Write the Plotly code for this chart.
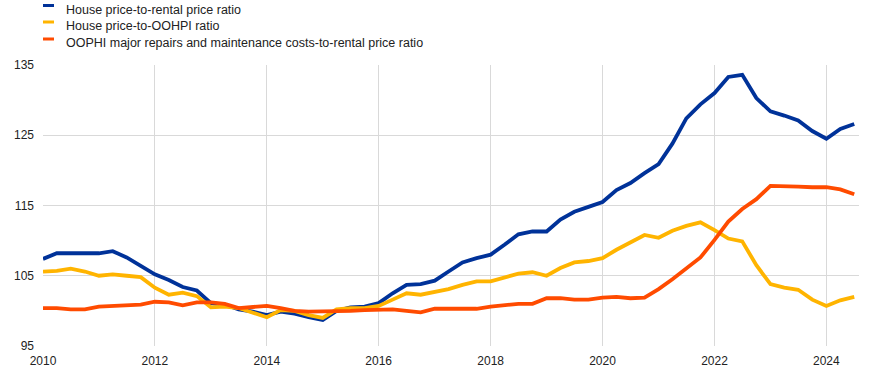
import pandas as pd
import plotly.graph_objects as go

# Quarterly observations, 2010 Q1 - 2024 Q3
quarters = pd.date_range("2010-01-01", periods=59, freq="QS")

house_to_rental = [
    107.4, 108.2, 108.2, 108.2, 108.2, 108.5, 107.6, 106.4,
    105.2, 104.4, 103.4, 102.9, 101.1, 100.9, 100.2, 99.9,
    99.4, 99.9, 99.6, 99.1, 98.7, 100.0, 100.5, 100.6,
    101.1, 102.5, 103.7, 103.8, 104.3, 105.6, 106.9, 107.5,
    108.0, 109.4, 110.9, 111.3, 111.3, 113.0, 114.1, 114.8,
    115.5, 117.2, 118.2, 119.6, 120.9, 123.8, 127.4, 129.4,
    131.0, 133.3, 133.6, 130.3, 128.4, 127.8, 127.1, 125.6,
    124.5, 125.9, 126.6,
]

house_to_oohpi = [
    105.6, 105.7, 106.0, 105.6, 105.0, 105.2, 105.0, 104.8,
    103.3, 102.3, 102.6, 102.1, 100.5, 100.6, 100.4, 99.7,
    99.1, 100.1, 100.0, 99.4, 99.0, 100.2, 100.4, 100.4,
    100.7, 101.6, 102.5, 102.3, 102.7, 103.1, 103.7, 104.2,
    104.2, 104.7, 105.3, 105.5, 105.0, 106.1, 106.9, 107.1,
    107.5, 108.7, 109.7, 110.8, 110.4, 111.4, 112.1, 112.6,
    111.5, 110.3, 109.9, 106.5, 103.8, 103.3, 103.0, 101.6,
    100.7, 101.5, 102.0,
]

repairs_to_rental = [
    100.4, 100.4, 100.2, 100.2, 100.6, 100.7, 100.7, 100.9,
    101.3, 101.2, 100.8, 101.2, 101.2, 101.0, 100.4, 100.6,
    100.7, 100.4, 100.0, 99.9, 99.9, 99.9, 100.0, 100.1,
    100.2, 100.2, 100.0, 99.8, 100.3, 100.3, 100.3, 100.3,
    100.6, 100.8, 101.0, 101.0, 101.8, 101.8, 101.6, 101.6,
    101.9, 102.0, 101.8, 101.9, 103.1, 104.5, 106.1, 107.6,
    110.1, 112.7, 114.5, 115.9, 117.8, 117.8, 117.7, 117.6,
    117.6, 117.3, 116.6,
]

series_names = [
    "House price-to-rental price ratio",
    "House price-to-OOHPI ratio",
    "OOPHI major repairs and maintenance costs-to-rental price ratio",
]
series_colors = ["#003299", "#FFB400", "#FF4B00"]
y_ticks = [95, 105, 115, 125, 135]
x_ticks = ["2010", "2012", "2014", "2016", "2018", "2020", "2022", "2024"]

W, H = 874, 373
ML, MR, MT, MB = 43, 15, 65, 27
PW, PH = W - ML - MR, H - MT - MB


def px_x(px):
    return (px - ML) / PW


def px_y(py):
    return (H - MB - py) / PH


fig = go.Figure()
for name, vals, col in zip(series_names,
                           [house_to_rental, house_to_oohpi, repairs_to_rental],
                           series_colors):
    fig.add_trace(go.Scatter(
        x=quarters, y=vals, name=name, mode="lines",
        line=dict(color=col, width=3.8), showlegend=False,
    ))

# Custom legend (short colour bars + text), placed above the plot area
legend_rows_y = [9.5, 26, 43]
shapes, annots = [], []
for name, col, ry in zip(series_names, series_colors, legend_rows_y):
    shapes.append(dict(
        type="rect", xref="paper", yref="paper",
        x0=px_x(43), x1=px_x(54), y0=px_y(ry - 2.5), y1=px_y(ry - 5.5),
        fillcolor=col, line=dict(width=0),
    ))
    annots.append(dict(
        text=name, xref="paper", yref="paper",
        x=px_x(64), y=px_y(ry), xanchor="left", yanchor="middle",
        showarrow=False, font=dict(size=12.5, color="#222222"),
    ))

fig.update_layout(
    width=W, height=H,
    margin=dict(l=ML, r=MR, t=MT, b=MB, autoexpand=False),
    paper_bgcolor="white", plot_bgcolor="white",
    font=dict(family="Liberation Sans, Arial, sans-serif", size=12, color="#222222"),
    showlegend=False,
    shapes=shapes,
    annotations=annots,
    xaxis=dict(
        type="date",
        range=["2010-01-01", "2024-08-01"],
        tickvals=[f"{y}-01-01" for y in x_ticks],
        ticktext=x_ticks,
        showgrid=True, gridcolor="#d9d9d9", gridwidth=1,
        zeroline=False, showline=False, ticks="", automargin=False,
        ticklabelstandoff=6,
    ),
    yaxis=dict(
        range=[95, 135],
        tickvals=y_ticks,
        showgrid=True, gridcolor="#d9d9d9", gridwidth=1,
        zeroline=False, showline=False, ticks="", ticklabelstandoff=8,
        automargin=False,
    ),
)

fig.write_html(
    "out.html",
    config={"displayModeBar": False},
    post_script="document.body.style.margin='0';document.body.style.padding='0';",
)
